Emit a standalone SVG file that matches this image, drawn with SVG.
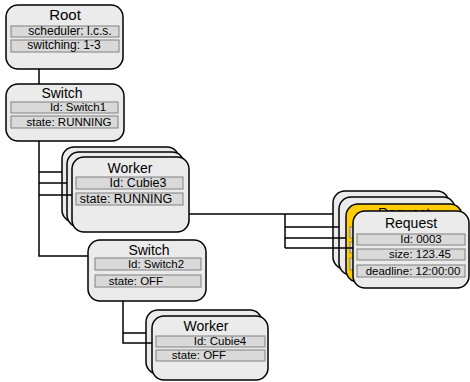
<svg xmlns="http://www.w3.org/2000/svg" width="470" height="382" viewBox="0 0 470 382">
<style>
.box{fill:#ebebeb;stroke:#000;stroke-width:1.5}
.yel{fill:#ffcc00;stroke:#000;stroke-width:1.5}
.fld{fill:#d9d9d9;stroke:#808080;stroke-width:1}
.ttl{font-family:"Liberation Sans",Arial,sans-serif;font-size:14px;fill:#000;text-anchor:middle}
.txt{font-family:"Liberation Sans",Arial,sans-serif;font-size:11.5px;fill:#000;text-anchor:middle}
.con{fill:none;stroke:#000;stroke-width:1.5}
</style>
<rect width="470" height="382" fill="#fff"/>
<g id="root">
<rect class="box" x="6" y="5" width="117" height="64" rx="12"/>
<text class="ttl" x="65" y="20" style="font-size:15px">Root</text>
<rect class="fld" x="11" y="26" width="108" height="11"/>
<text class="txt" x="70" y="35" style="font-size:12px">scheduler: l.c.s.</text>
<rect class="fld" x="11" y="40" width="108" height="12"/>
<text class="txt" x="64" y="49" style="font-size:12px">switching: 1-3</text>
</g>
<g id="switch1">
<rect class="box" x="6" y="84" width="118" height="57" rx="12"/>
<text class="ttl" x="62" y="98">Switch</text>
<rect class="fld" x="11" y="102" width="107" height="11"/>
<text class="txt" x="78" y="111">Id: Switch1</text>
<rect class="fld" x="11" y="116" width="107" height="12"/>
<text class="txt" x="69" y="126">state: RUNNING</text>
</g>
<g id="worker1">
<rect class="box" x="62" y="147" width="117" height="75" rx="12"/>
<rect class="box" x="67" y="152" width="117" height="75" rx="12"/>
<rect class="box" x="72" y="157" width="117" height="75" rx="12"/>
<text class="ttl" x="130" y="173">Worker</text>
<rect class="fld" x="76" y="177" width="107" height="12"/>
<text class="txt" x="138" y="187" style="font-size:12.5px">Id: Cubie3</text>
<rect class="fld" x="76" y="193" width="107" height="12"/>
<text class="txt" x="126" y="203" style="font-size:12.5px">state: RUNNING</text>
</g>
<g id="switch2">
<rect class="box" x="88" y="240" width="118" height="61" rx="12"/>
<text class="ttl" x="149" y="255">Switch</text>
<rect class="fld" x="95" y="258" width="106" height="12"/>
<text class="txt" x="156" y="268">Id: Switch2</text>
<rect class="fld" x="95" y="275" width="106" height="12"/>
<text class="txt" x="136" y="285">state: OFF</text>
</g>
<g id="worker2">
<rect class="box" x="146" y="310" width="116" height="64" rx="12"/>
<rect class="box" x="152" y="316" width="116" height="64" rx="12"/>
<text class="ttl" x="206" y="331">Worker</text>
<rect class="fld" x="156" y="336" width="109" height="11"/>
<text class="txt" x="220" y="345">Id: Cubie4</text>
<rect class="fld" x="156" y="350" width="109" height="11"/>
<text class="txt" x="199" y="359">state: OFF</text>
</g>
<g id="requests">
<rect class="box" x="333" y="191" width="116" height="78" rx="12"/>
<rect class="box" x="339" y="197" width="116" height="78" rx="12"/>
<rect class="yel" x="346" y="204" width="116" height="78" rx="12"/>
<text class="ttl" x="404" y="218">Request</text>
<rect class="fld" x="350" y="227" width="108" height="11"/>
<rect class="fld" x="350" y="242" width="108" height="11"/>
<rect class="fld" x="350" y="258" width="108" height="12"/>
<rect class="box" x="353" y="211" width="116" height="77" rx="12"/>
<text class="ttl" x="411" y="228">Request</text>
<rect class="fld" x="357" y="234" width="108" height="11"/>
<text class="txt" x="421" y="243">Id: 0003</text>
<rect class="fld" x="357" y="249" width="108" height="11"/>
<text class="txt" x="420" y="258">size: 123.45</text>
<rect class="fld" x="357" y="265" width="108" height="12"/>
<text class="txt" x="413" y="275">deadline: 12:00:00</text>
</g>
<g id="connectors">
<path class="con" d="M39,69V84M39,141V256H88M39,172H62M39,183H67M39,195H72"/>
<path class="con" d="M189,214H333M285,214V248M285,227H339M285,238H346M285,248H353"/>
<path class="con" d="M123,301V343H152M123,333H146"/>
</g>
</svg>
